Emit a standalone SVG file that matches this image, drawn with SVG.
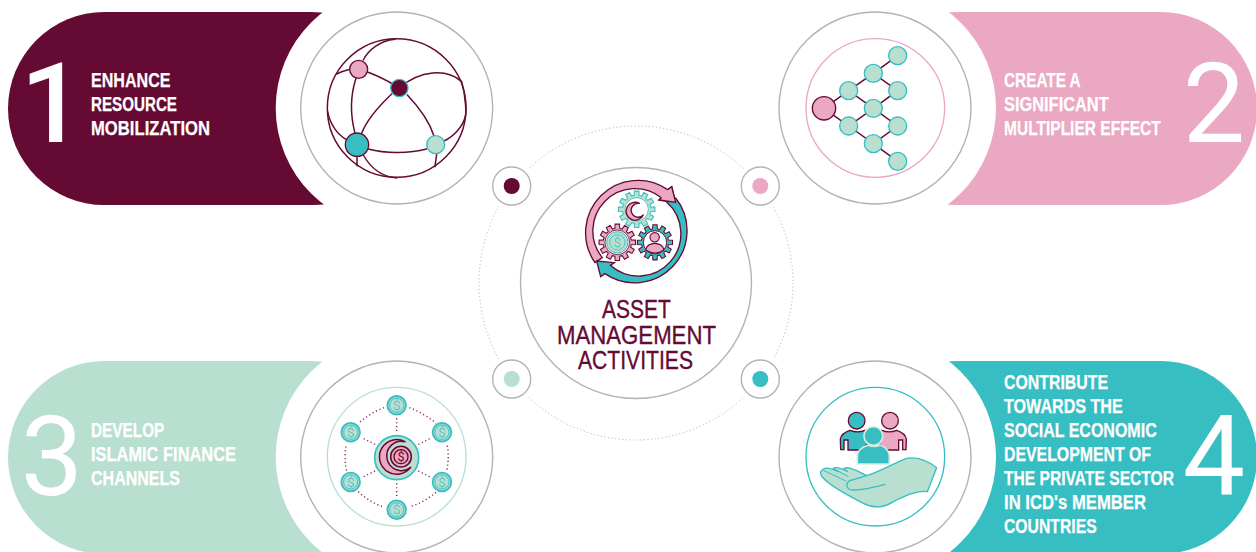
<svg xmlns="http://www.w3.org/2000/svg" width="1256" height="552" viewBox="0 0 1256 552">
<style>
text{font-family:"Liberation Sans Narrow","Liberation Sans",Arial,sans-serif}
.t{font-size:20px;font-weight:700;fill:#fff;stroke:#fff;stroke-width:.25}
.d{font-family:Roboto,"Liberation Sans",sans-serif;font-weight:400;font-size:111px;fill:#fff;text-anchor:middle}
.c{font-size:25px;fill:#650a32;stroke:#650a32;stroke-width:.35}
.halo{fill:#fff}
.outer{fill:#fff;stroke:#b3b3b3;stroke-width:1.4}
.gl{fill:none;stroke:#650a32;stroke-width:4.5;stroke-linecap:round}
.mn{stroke:#650a32;stroke-width:4}
.tl{stroke:#36bec3;stroke-width:4}
.dots{fill:none;stroke:#8c2f5a;stroke-width:4.5;stroke-dasharray:3.5 8}
.usd{font-family:Roboto,sans-serif;font-weight:300;fill:#36bec3;text-anchor:middle}
</style>
<defs>
<polygon id="gear" points="39.4,6.9 37.6,13.7 47.9,20.3 41.5,31.3 30.6,25.7 25.7,30.6 31.3,41.5 20.3,47.9 13.7,37.6 6.9,39.4 6.3,51.6 -6.3,51.6 -6.9,39.4 -13.7,37.6 -20.3,47.9 -31.3,41.5 -25.7,30.6 -30.6,25.7 -41.5,31.3 -47.9,20.3 -37.6,13.7 -39.4,6.9 -51.6,6.3 -51.6,-6.3 -39.4,-6.9 -37.6,-13.7 -47.9,-20.3 -41.5,-31.3 -30.6,-25.7 -25.7,-30.6 -31.3,-41.5 -20.3,-47.9 -13.7,-37.6 -6.9,-39.4 -6.3,-51.6 6.3,-51.6 6.9,-39.4 13.7,-37.6 20.3,-47.9 31.3,-41.5 25.7,-30.6 30.6,-25.7 41.5,-31.3 47.9,-20.3 37.6,-13.7 39.4,-6.9 51.6,-6.3 51.6,6.3"/>
<g id="coin">
<circle r="28" fill="#a6dbd2" stroke="#36bec3" stroke-width="5.5"/>
<circle r="21" fill="#b9dfd1" stroke="#36bec3" stroke-width="2.5"/>
<text class="usd" y="14" font-size="40">$</text>
</g>
</defs>

<g id="connectors">
<circle cx="636" cy="283" r="157" fill="none" stroke="#aaa" stroke-width="1" stroke-dasharray="1 2.6"/>
</g>

<g id="node-1">
<rect x="8" y="12" width="400" height="193" rx="96.5" fill="#650a32"/>
<circle class="halo" cx="396.7" cy="108" r="121"/>
<circle class="outer" cx="396.7" cy="108" r="96"/>
<text class="d" x="52" y="142" style="font-weight:500">1</text>
<text class="t" x="91" y="87" textLength="79.5" lengthAdjust="spacingAndGlyphs">ENHANCE</text>
<text class="t" x="91" y="111" textLength="86" lengthAdjust="spacingAndGlyphs">RESOURCE</text>
<text class="t" x="91" y="135" textLength="119" lengthAdjust="spacingAndGlyphs">MOBILIZATION</text>
<g transform="translate(280 0) scale(.33333)">
<circle class="gl" cx="350" cy="324" r="208"/>
<path class="gl" d="M170,222C195,210 215,205 236,208C280,220 320,240 358,264C420,210 500,205 545,245C558,290 558,340 557,345C550,380 520,410 492,423"/>
<path class="gl" d="M250,180C265,150 300,122 345,118M228,235C210,290 212,350 225,400M335,282C295,320 260,360 245,400M382,285C420,325 450,370 462,408M470,462L465,500M265,447C320,462 390,460 440,447M143,335C150,375 175,405 198,418M231,468L231,497M250,465C275,510 310,530 350,534"/>
<circle cx="236" cy="208" r="27" fill="#eaa8c2" class="mn"/>
<circle cx="358" cy="264" r="26" fill="#650a32" class="tl"/>
<circle cx="231" cy="434" r="35" fill="#36bec3" class="mn"/>
<circle cx="467" cy="434" r="27" fill="#b9dfd1" class="tl"/>
</g>
</g>

<g id="node-2">
<rect x="860" y="12" width="397" height="193" rx="96.5" fill="#eaa8c2"/>
<circle class="halo" cx="875" cy="108" r="121"/>
<circle class="outer" cx="875" cy="108" r="96"/>
<text class="d" x="1214" y="142">2</text>
<text class="t" x="1004" y="87" textLength="76.7" lengthAdjust="spacingAndGlyphs">CREATE A</text>
<text class="t" x="1004" y="111" textLength="104.7" lengthAdjust="spacingAndGlyphs">SIGNIFICANT</text>
<text class="t" x="1004" y="135" textLength="156.7" lengthAdjust="spacingAndGlyphs">MULTIPLIER EFFECT</text>
<g transform="translate(770 0) scale(.33333)">
<circle cx="316" cy="324" r="208" fill="none" stroke="#eaa8c2" stroke-width="4"/>
<path class="gl" d="M162,325L236,272L310,220L383,167M310,220L383,272L310,325L236,272M162,325L236,378L310,325L383,378L310,431L236,378M310,431L383,484"/>
<g fill="#b9dfd1" class="tl">
<circle cx="383" cy="167" r="27"/><circle cx="310" cy="220" r="27"/><circle cx="236" cy="272" r="27"/><circle cx="383" cy="272" r="27"/><circle cx="310" cy="325" r="27"/><circle cx="236" cy="378" r="27"/><circle cx="383" cy="378" r="27"/><circle cx="310" cy="431" r="27"/><circle cx="383" cy="484" r="27"/>
</g>
<circle cx="162" cy="325" r="35" fill="#eaa8c2" class="mn"/>
</g>
</g>

<g id="node-3">
<rect x="8" y="361" width="400" height="193" rx="96.5" fill="#b9dfd1"/>
<circle class="halo" cx="396.7" cy="457" r="121"/>
<circle class="outer" cx="396.7" cy="457" r="96"/>
<text class="d" x="52" y="495">3</text>
<text class="t" x="91" y="437" textLength="73.3" lengthAdjust="spacingAndGlyphs">DEVELOP</text>
<text class="t" x="91" y="461" textLength="145" lengthAdjust="spacingAndGlyphs">ISLAMIC FINANCE</text>
<text class="t" x="91" y="485" textLength="89" lengthAdjust="spacingAndGlyphs">CHANNELS</text>
<g transform="translate(290 355) scale(.33333)">
<circle cx="320" cy="305" r="208" fill="none" stroke="#b9dfd1" stroke-width="4"/>
<path class="dots" d="M358,158C385,168 415,185 438,205M282,158C255,168 228,185 205,205M472,272C476,295 476,320 470,348M168,275C164,295 164,320 170,348M438,412C415,432 385,448 358,456M205,410C228,432 255,448 282,456M320,190V235M320,385V430M385,268L425,248M255,268L215,248M385,348L425,368M255,348L215,368"/>
<circle cx="320" cy="308" r="66" fill="#b9dfd1" stroke="#36bec3" stroke-width="5"/>
<path d="M345,260A52,52 0 1 0 362,337A44,44 0 1 1 345,260Z" fill="#eaa8c2" stroke="#650a32" stroke-width="4.5" stroke-linejoin="round"/>
<circle cx="333" cy="305" r="31" fill="#eaa8c2" stroke="#650a32" stroke-width="4.5"/>
<circle cx="333" cy="305" r="21" fill="#eaa8c2" stroke="#650a32" stroke-width="4"/>
<text x="333" y="319" font-size="38" fill="#650a32" style="font-family:Roboto,sans-serif;font-weight:400;text-anchor:middle">$</text>
<use href="#coin" x="320" y="151"/><use href="#coin" x="182" y="232"/><use href="#coin" x="456" y="232"/><use href="#coin" x="182" y="381"/><use href="#coin" x="456" y="381"/><use href="#coin" x="320" y="464"/>
</g>
</g>

<g id="node-4">
<rect x="860" y="361" width="397" height="193" rx="96.5" fill="#36bec3"/>
<circle class="halo" cx="875" cy="457" r="121"/>
<circle class="outer" cx="875" cy="457" r="96"/>
<text class="d" x="1214" y="494">4</text>
<text class="t" x="1004" y="389" textLength="104" lengthAdjust="spacingAndGlyphs">CONTRIBUTE</text>
<text class="t" x="1004" y="413" textLength="118.7" lengthAdjust="spacingAndGlyphs">TOWARDS THE</text>
<text class="t" x="1004" y="437" textLength="152.7" lengthAdjust="spacingAndGlyphs">SOCIAL ECONOMIC</text>
<text class="t" x="1004" y="461" textLength="147" lengthAdjust="spacingAndGlyphs">DEVELOPMENT OF</text>
<text class="t" x="1004" y="485" textLength="170" lengthAdjust="spacingAndGlyphs">THE PRIVATE SECTOR</text>
<text class="t" x="1004" y="509" textLength="142" lengthAdjust="spacingAndGlyphs">IN ICD's MEMBER</text>
<text class="t" x="1004" y="533" textLength="92.7" lengthAdjust="spacingAndGlyphs">COUNTRIES</text>
<g transform="translate(770 355) scale(.33333)">
<circle cx="316" cy="305" r="208" fill="none" stroke="#36bec3" stroke-width="4"/>
<path d="M212,284L211,252C214,236 228,230 240,226C255,232 270,232 285,226L300,260L270,285L234,285L234,255L222,255L222,284Z" fill="#36bec3" class="mn"/>
<path d="M408,284L409,252C406,236 392,230 380,226C365,232 350,232 335,226L320,260L350,285L386,285L386,255L398,255L398,284Z" fill="#eaa8c2" class="mn"/>
<circle cx="260" cy="197" r="25" fill="#36bec3" class="mn"/>
<circle cx="360" cy="197" r="25" fill="#eaa8c2" class="mn"/>
<path d="M262,327L262,300C265,282 282,274 295,270C305,276 320,276 330,270C342,274 355,282 358,300L358,327Z" fill="#36bec3" stroke="#d5ecdf" stroke-width="5"/>
<circle cx="310" cy="243" r="28" fill="#36bec3" stroke="#d5ecdf" stroke-width="5"/>
<path d="M500,338C470,315 440,305 410,310C370,325 330,350 290,362C270,350 250,342 235,338C222,338 215,340 232,349C215,340 200,337 195,338C185,339 190,344 205,350C190,343 170,335 160,342C148,350 150,358 160,370C190,400 240,425 280,445C310,460 340,460 370,440C400,425 440,405 472,410Z" fill="#b9dfd1" stroke="#36bec3" stroke-width="4" stroke-linejoin="round"/>
<path d="M290,362L240,377C225,385 228,405 250,405C280,405 320,395 345,388" fill="none" stroke="#36bec3" stroke-width="4" stroke-linecap="round"/>
<path d="M160,346L228,378M195,343L235,365" fill="none" stroke="#36bec3" stroke-width="3"/>
</g>
</g>

<g id="node-center">
<circle class="outer" cx="636" cy="283" r="115.5"/>
<g transform="translate(560 165) scale(.33333)">
<path d="M105,293A157,157 0 0 1 323,74L335,65L347,112L297,105L304,98A127,127 0 0 0 127,278Z" fill="#eaa8c2" class="mn"/>
<path d="M347,99A157,157 0 0 1 135,326L122,335L110,288L163,293L151,301A127,127 0 0 0 320,111Z" fill="#36bec3" class="mn"/>
<path d="M323,74L335,65L347,112L297,105L304,98" fill="#eaa8c2" class="mn" stroke-linejoin="round"/>
<use href="#gear" transform="translate(230 133) scale(1.06)" fill="#b9dfd1" stroke="#36bec3" stroke-width="3"/>
<circle cx="230" cy="133" r="35" fill="#fff" stroke="#36bec3" stroke-width="2.5"/>
<path d="M238,115A27,27 0 1 0 250,150A21,21 0 1 1 238,115Z" fill="#eaa8c2" stroke="#650a32" stroke-width="4" stroke-linejoin="round"/>
<use href="#gear" transform="translate(172 232) scale(1.06)" fill="#eaa8c2" stroke="#650a32" stroke-width="3"/>
<circle cx="172" cy="232" r="37" fill="#fff" stroke="#650a32" stroke-width="2.5"/>
<circle cx="172" cy="232" r="32" fill="#b9dfd1" stroke="#36bec3" stroke-width="3"/>
<circle cx="172" cy="232" r="23" fill="#b9dfd1" stroke="#36bec3" stroke-width="2.5"/>
<text class="usd" x="172" y="246" font-size="38">$</text>
<use href="#gear" transform="translate(285 232) scale(1.02)" fill="#36bec3" stroke="#650a32" stroke-width="3"/>
<circle cx="285" cy="232" r="35" fill="#fff" stroke="#650a32" stroke-width="3"/>
<circle cx="284" cy="217" r="14" fill="#eaa8c2" stroke="#650a32" stroke-width="3.5"/>
<path d="M258,256C258,241 272,235 284,235C297,235 311,241 311,256Q285,272 258,256Z" fill="#eaa8c2" stroke="#650a32" stroke-width="3.5"/>
</g>
<text class="c" x="602" y="318" textLength="68.7" lengthAdjust="spacingAndGlyphs">ASSET</text>
<text class="c" x="557" y="344" textLength="159" lengthAdjust="spacingAndGlyphs">MANAGEMENT</text>
<text class="c" x="578" y="369" textLength="115" lengthAdjust="spacingAndGlyphs">ACTIVITIES</text>
</g>

<g id="dot-1"><circle class="halo" cx="511.7" cy="186" r="24"/><circle class="outer" cx="511.7" cy="186" r="19"/><circle cx="511.7" cy="186" r="8" fill="#650a32"/></g>
<g id="dot-2"><circle class="halo" cx="760.3" cy="186" r="24"/><circle class="outer" cx="760.3" cy="186" r="19"/><circle cx="760.3" cy="186" r="8" fill="#eaa8c2"/></g>
<g id="dot-3"><circle class="halo" cx="511.7" cy="379" r="24"/><circle class="outer" cx="511.7" cy="379" r="19"/><circle cx="511.7" cy="379" r="8" fill="#b9dfd1"/></g>
<g id="dot-4"><circle class="halo" cx="760.3" cy="379" r="24"/><circle class="outer" cx="760.3" cy="379" r="19"/><circle cx="760.3" cy="379" r="8" fill="#36bec3"/></g>
</svg>
